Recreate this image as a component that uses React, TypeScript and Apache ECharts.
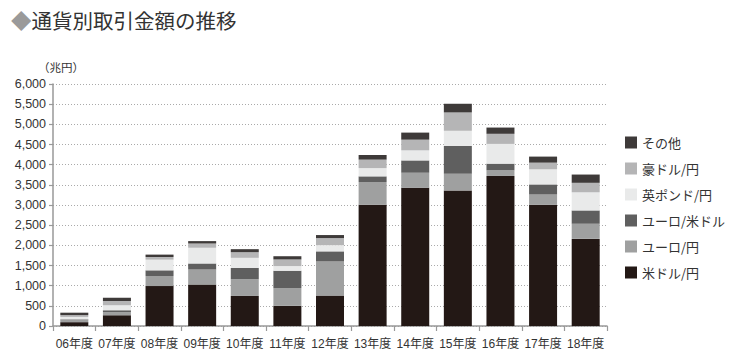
import React, { useEffect, useRef } from "react";
import * as echarts from "echarts";

const categories = ["06年度", "07年度", "08年度", "09年度", "10年度", "11年度", "12年度", "13年度", "14年度", "15年度", "16年度", "17年度", "18年度"];
const usdJpy = [95, 265, 990, 1030, 745, 500, 755, 3005, 3425, 3360, 3720, 3005, 2160];
const eurJpy = [45, 75, 250, 370, 415, 440, 845, 565, 375, 415, 140, 255, 375];
const eurUsd = [25, 50, 140, 150, 280, 430, 250, 140, 305, 690, 165, 250, 330];
const gbpJpy = [60, 125, 265, 390, 250, 115, 155, 205, 250, 375, 490, 375, 450];
const audJpy = [45, 105, 65, 105, 140, 165, 175, 210, 265, 455, 250, 165, 235];
const others = [60, 80, 60, 60, 75, 80, 75, 115, 175, 215, 155, 150, 205];

const seriesNames = ["米ドル/円", "ユーロ/円", "ユーロ/米ドル", "英ポンド/円", "豪ドル/円", "その他"];
const seriesData = [usdJpy, eurJpy, eurUsd, gbpJpy, audJpy, others];
const seriesColors = ["#231815", "#9fa0a0", "#5f5f5f", "#e9eaea", "#b5b5b6", "#3e3a39"];

const FONT = "'Liberation Sans', 'Noto Sans CJK JP', sans-serif";

export default function App() {
  const ref = useRef<HTMLDivElement>(null);
  useEffect(() => {
    if (!ref.current) return;
    const chart = echarts.init(ref.current, null, { renderer: "svg" });
    chart.setOption({
      animation: false,
      backgroundColor: "#ffffff",
      title: {
        text: "{d|◆}{t|通貨別取引金額の推移}",
        left: 6,
        top: 5,
        textStyle: {
          rich: {
            d: { color: "#9a9a9a", fontSize: 20.5, fontFamily: "'Noto Sans CJK JP'" },
            t: { color: "#333333", fontSize: 20.5, fontFamily: "'Noto Sans CJK JP'", fontWeight: "normal" },
          },
        },
      },
      graphic: [
        {
          type: "text",
          left: 38,
          top: 61,
          style: { text: "（兆円）", fontSize: 11.5, fill: "#333", fontFamily: "'Noto Sans CJK JP'" },
        },
      ],
      legend: {
        orient: "vertical",
        left: 620,
        top: 131,
        itemWidth: 12,
        itemHeight: 12,
        itemGap: 13,
        icon: "rect",
        data: [...seriesNames].reverse(),
        textStyle: { fontSize: 13, color: "#333", fontFamily: "'Noto Sans CJK JP'", padding: [0, 0, 0, 0] },
      },
      grid: { left: 53, right: 133, top: 84, bottom: 38, containLabel: false },
      xAxis: {
        type: "category",
        data: categories,
        axisLine: { lineStyle: { color: "#999", width: 1.5 } },
        axisTick: { show: true, length: 5, lineStyle: { color: "#999", width: 1.2 } },
        axisLabel: { color: "#333", fontSize: 12, margin: 12, interval: 0, fontFamily: FONT },
      },
      yAxis: {
        type: "value",
        min: 0,
        max: 6000,
        interval: 500,
        axisLine: { show: true, lineStyle: { color: "#999", width: 1.5 } },
        axisTick: { show: true, length: 4, lineStyle: { color: "#999", width: 1.2 } },
        axisLabel: {
          color: "#333",
          fontSize: 12.5,
          margin: 7,
          fontFamily: FONT,
          formatter: (v: number) => v.toLocaleString("en-US"),
        },
        splitLine: { show: true, lineStyle: { color: "#aaa", type: [1, 2], width: 1 } },
      },
      series: seriesNames.map((name, i) => ({
        name,
        type: "bar",
        stack: "total",
        barWidth: 28,
        data: seriesData[i],
        itemStyle: { color: seriesColors[i] },
      })),
    });
    return () => chart.dispose();
  }, []);
  return <div ref={ref} style={{ position: "absolute", left: 0, top: 0, width: 740, height: 364 }} />;
}
